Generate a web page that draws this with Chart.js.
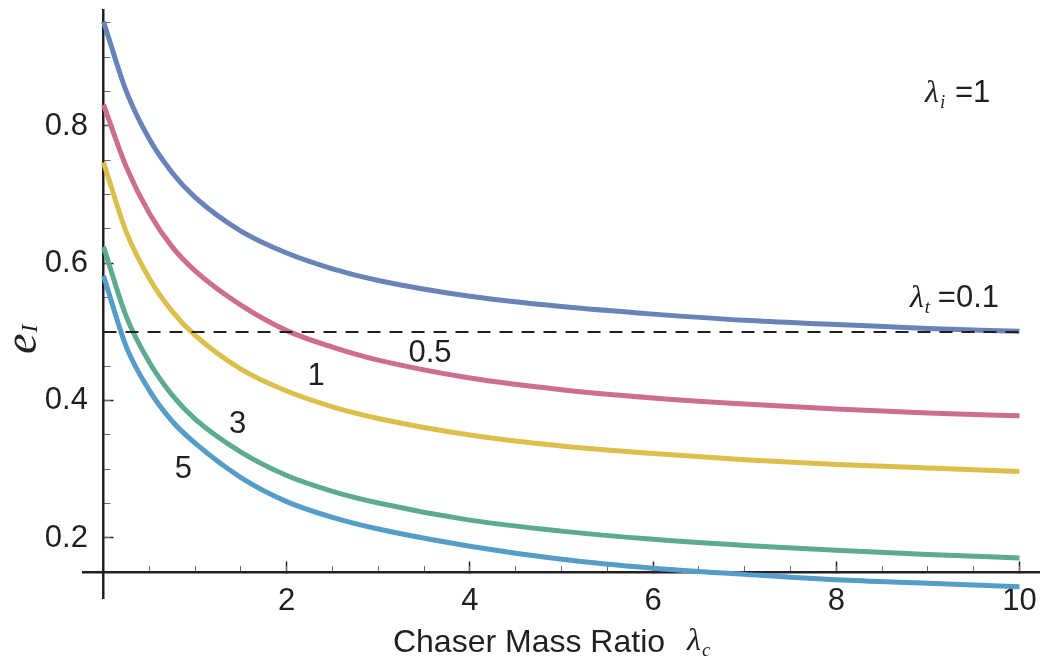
<!DOCTYPE html>
<html lang="en">
<head>
<meta charset="UTF-8">
<title>e_I vs Chaser Mass Ratio</title>
<script src="https://cdn.jsdelivr.net/npm/chart.js"></script>
<style>
  html, body { margin: 0; padding: 0; background: #fff; }
  #wrap { width: 1040px; height: 661px; }
</style>
</head>
<body>
<div id="wrap"><canvas id="chart" width="1040" height="661"></canvas></div>
<script>
    // Chaser mass ratio (lambda_c) sample points
    const lambdaC = [0, 0.25, 0.5, 0.75, 1, 1.5, 2, 2.5, 3, 4, 5, 6, 7, 8, 9, 10];

    // e_I, lambda_i = 1
    const eT01 = [0.952, 0.850, 0.781, 0.732, 0.696, 0.647, 0.615, 0.592, 0.575, 0.552, 0.537, 0.526, 0.517, 0.511, 0.505, 0.501];
    const eT05 = [0.831, 0.740, 0.673, 0.624, 0.589, 0.539, 0.502, 0.478, 0.459, 0.433, 0.416, 0.404, 0.395, 0.388, 0.382, 0.378];
    const eT1  = [0.747, 0.645, 0.578, 0.530, 0.495, 0.446, 0.414, 0.391, 0.374, 0.350, 0.334, 0.323, 0.314, 0.307, 0.302, 0.297];
    const eT3  = [0.624, 0.522, 0.456, 0.408, 0.373, 0.325, 0.291, 0.268, 0.251, 0.226, 0.210, 0.198, 0.189, 0.182, 0.176, 0.171];
    const eT5  = [0.582, 0.478, 0.415, 0.370, 0.338, 0.288, 0.253, 0.230, 0.213, 0.188, 0.169, 0.156, 0.147, 0.139, 0.134, 0.129];

    // dashed reference level
    const refLevel = 0.5;

    // target mass ratio of each curve
    const lambdaT = ['0.1', '0.5', '1', '3', '5'];

    // tick labels
    const xTicks = [2, 4, 6, 8, 10];
    const yTicks = [0.2, 0.4, 0.6, 0.8];

    const series = [eT01, eT05, eT1, eT3, eT5];
    const colors = ['#6883b7', '#cd6e8a', '#dcbf4b', '#5cab8e', '#559cc9'];
    const ink = '#231f20';
    const sans = '"Liberation Sans", Arial, Helvetica, sans-serif';
    const serif = '"Liberation Serif", "Times New Roman", serif';

    const X_MIN = -0.224, X_MAX = 10.213;
    const Y_MIN = 0.1126, Y_MAX = 0.9689;

    // dashed line first so it lands on top
    const datasets = [{
        label: 'e_I = 0.5',
        data: [{x: lambdaC[0], y: refLevel}, {x: lambdaC[lambdaC.length - 1], y: refLevel}],
        showLine: true,
        borderColor: ink,
        borderWidth: 2.2,
        borderDash: [13, 9],
        pointRadius: 0,
        order: 0,
        xAxisID: 'x', yAxisID: 'y'
    }].concat(series.map((s, i) => ({
        label: 'λt = ' + lambdaT[i],
        data: lambdaC.map((c, j) => ({x: c, y: s[j]})),
        showLine: true,
        borderColor: colors[i],
        borderWidth: 5,
        pointRadius: 0,
        cubicInterpolationMode: 'monotone',
        order: 1,
        xAxisID: 'x', yAxisID: 'y'
    })));

    const fixedTicks = list => (axis => { axis.ticks = list.map(v => ({value: v})); });

    // text on the plot: curve labels, lambda notes, axis titles
    const textLayer = {
        id: 'textLayer',
        afterDraw(chart) {
            const {ctx, scales: {x, y}} = chart;
            ctx.save();
            ctx.fillStyle = ink;
            ctx.textBaseline = 'alphabetic';

            // curve labels (lambda_t values)
            ctx.font = '31px ' + sans;
            ctx.textAlign = 'center';
            const spots = [[3.565, 0.4563, '0.5'], [2.32, 0.4228, '1'], [1.463, 0.3529, '3'], [0.873, 0.2874, '5']];
            spots.forEach(([vx, vy, t]) => ctx.fillText(t, x.getPixelForValue(vx), y.getPixelForValue(vy)));

            // lambda with subscript, then the rest
            ctx.textAlign = 'left';
            function lam(px, py, sub, rest, gap) {
                ctx.font = 'italic 32px ' + serif;
                ctx.fillText('λ', px, py);
                const w = ctx.measureText('λ').width;
                ctx.font = 'italic 19px ' + serif;
                ctx.fillText(sub, px + w + 1, py + 6);
                if (rest) {
                    ctx.font = '31px ' + sans;
                    ctx.fillText(rest, px + w + gap, py);
                }
            }
            lam(x.getPixelForValue(8.969), y.getPixelForValue(0.835), 'i', '=1', 16);
            lam(x.getPixelForValue(8.804), y.getPixelForValue(0.5364), 't', '=0.1', 14);

            // x axis title
            const tx = x.getPixelForValue(3.16), ty = chart.height - 9;
            ctx.font = '32px ' + sans;
            ctx.fillText('Chaser Mass Ratio', tx, ty);
            const tw = ctx.measureText('Chaser Mass Ratio').width;
            lam(tx + tw + 22, ty - 2, 'c', null, 0);

            // y axis title, rotated
            ctx.translate(36, 354);
            ctx.rotate(-Math.PI / 2);
            ctx.font = 'italic 46px ' + serif;
            ctx.fillText('e', 0, 0);
            const ew = ctx.measureText('e').width;
            ctx.font = 'italic 24px ' + serif;
            ctx.fillText('I', ew + 1, 1);
            ctx.restore();
        }
    };

    const noGrid = {display: false, drawTicks: false};
    const noBorder = {display: false};

    new Chart(document.getElementById('chart'), {
        type: 'scatter',
        data: {datasets},
        plugins: [textLayer],
        options: {
            responsive: false,
            animation: false,
            layout: {padding: {left: 83, right: 1, top: 10, bottom: 63}},
            plugins: {legend: {display: false}, tooltip: {enabled: false}},
            scales: {
                // main axes: line + major tick marks pointing inwards
                x: {
                    type: 'linear', axis: 'x', min: X_MIN, max: X_MAX,
                    position: {y: 0.15},
                    afterBuildTicks: fixedTicks(xTicks),
                    ticks: {display: false},
                    grid: {drawOnChartArea: false, tickLength: -12, tickColor: ink, tickWidth: 1.5},
                    border: {display: true, color: ink, width: 2.5}
                },
                y: {
                    type: 'linear', axis: 'y', min: Y_MIN, max: Y_MAX,
                    position: {x: 0},
                    afterBuildTicks: fixedTicks(yTicks),
                    ticks: {display: false},
                    grid: {drawOnChartArea: false, tickLength: -11.5, tickColor: ink, tickWidth: 1.5},
                    border: {display: true, color: ink, width: 2.5}
                },
                // minor tick marks
                xMinor: {
                    type: 'linear', axis: 'x', min: X_MIN, max: X_MAX,
                    position: {y: 0.15},
                    ticks: {display: false, stepSize: 0.5, includeBounds: false, autoSkip: false, maxTicksLimit: 100},
                    grid: {drawOnChartArea: false, tickLength: -6, tickColor: '#6d6e71', tickWidth: 1},
                    border: noBorder
                },
                yMinor: {
                    type: 'linear', axis: 'y', min: Y_MIN, max: Y_MAX,
                    position: {x: 0},
                    ticks: {display: false, stepSize: 0.05, includeBounds: false, autoSkip: false, maxTicksLimit: 100},
                    grid: {drawOnChartArea: false, tickLength: -6.5, tickColor: '#6d6e71', tickWidth: 1},
                    border: noBorder
                },
                // tick labels only
                xLab: {
                    type: 'linear', axis: 'x', min: X_MIN, max: X_MAX,
                    position: {y: 0.1345},
                    afterBuildTicks: fixedTicks(xTicks),
                    ticks: {padding: 0, autoSkip: false, color: ink, font: {family: sans, size: 31}},
                    grid: noGrid,
                    border: noBorder
                },
                yLab: {
                    type: 'linear', axis: 'y', min: Y_MIN, max: Y_MAX,
                    position: {x: -0.17},
                    afterBuildTicks: fixedTicks(yTicks),
                    ticks: {padding: 0, autoSkip: false, color: ink, font: {family: sans, size: 31, lineHeight: 0.6},
                            callback: v => v.toFixed(1)},
                    grid: noGrid,
                    border: noBorder
                }
            }
        }
    });
</script>
</body>
</html>
